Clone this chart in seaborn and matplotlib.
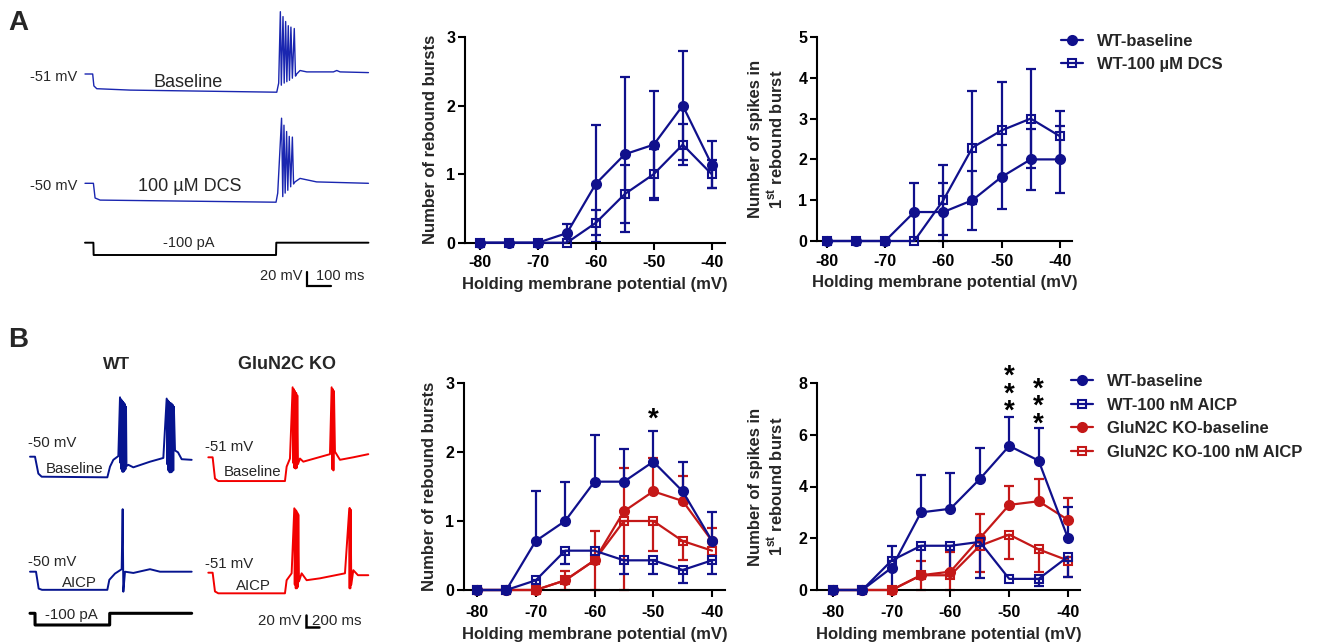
import numpy as np
import matplotlib
matplotlib.use('Agg')
import matplotlib.pyplot as plt
import seaborn as sns

sns.set_theme(style='ticks')
plt.rcParams['font.family'] = ['Liberation Sans', 'DejaVu Sans']
plt.rcParams['mathtext.fontset'] = 'custom'
plt.rcParams['mathtext.rm'] = 'Liberation Sans'
plt.rcParams['mathtext.bf'] = 'Liberation Sans:bold'
plt.rcParams['axes.unicode_minus'] = False

# ---------------- data ----------------
V_HOLD = [-80, -75, -70, -65, -60, -55, -50, -45, -40]
X_TICKS = [-80, -70, -60, -50, -40]

# Panel A: rebound bursts
A_BURST_BASE = [0, 0, 0, 0.14, 0.86, 1.29, 1.43, 2.00, 1.14]
A_BURST_BASE_SEM = [0, 0, 0, 0.14, 0.85, 1.13, 0.78, 0.79, 0.34]
A_BURST_DCS = [0, 0, 0, 0, 0.29, 0.71, 1.00, 1.43, 1.00]
A_BURST_DCS_SEM = [0, 0, 0, 0, 0.18, 0.42, 0.37, 0.30, 0.20]
# Panel A: spikes in 1st burst
A_SPK_BASE = [0, 0, 0, 0.71, 0.71, 1.00, 1.57, 2.00, 2.00]
A_SPK_BASE_SEM = [0, 0, 0, 0.72, 0.71, 0.72, 0.78, 0.75, 0.82]
A_SPK_DCS = [0, 0, 0, 0, 1.00, 2.29, 2.71, 3.00, 2.57]
A_SPK_DCS_SEM = [0, 0, 0, 0, 0.86, 1.39, 1.19, 1.21, 0.61]

# Panel B: rebound bursts
B_BURST_WT = [0, 0, 0.71, 1.00, 1.57, 1.57, 1.86, 1.43, 0.71]
B_BURST_WT_LO = [0, 0, 0, 0, 0, 0, 0, 0, 0]
B_BURST_WT_HI = [0, 0, 0.72, 0.57, 0.68, 0.47, 0.45, 0.43, 0.42]
B_BURST_WTA = [0, 0, 0.14, 0.57, 0.57, 0.43, 0.43, 0.29, 0.43]
B_BURST_WTA_LO = [0, 0, 0.14, 0.20, 0, 0.20, 0.20, 0.19, 0.20]
B_BURST_WTA_HI = [0, 0, 0, 0, 0, 0, 0, 0, 0]
B_BURST_KO = [0, 0, 0, 0.14, 0.43, 1.14, 1.43, 1.29, 0.71]
B_BURST_KO_LO = [0, 0, 0, 0, 0, 0, 0, 0, 0]
B_BURST_KO_HI = [0, 0, 0, 0.14, 0.43, 0.63, 0.48, 0.36, 0.19]
B_BURST_KOA = [0, 0, 0, 0.14, 0.43, 1.00, 1.00, 0.71, 0.57]
B_BURST_KOA_LO = [0, 0, 0, 0.14, 0.43, 1.00, 0.43, 0.28, 0]
B_BURST_KOA_HI = [0, 0, 0, 0, 0, 0, 0, 0, 0]
# Panel B: spikes in 1st burst
B_SPK_WT = [0, 0, 0.86, 3.00, 3.14, 4.29, 5.57, 5.00, 2.00]
B_SPK_WT_LO = [0, 0, 0.86, 0, 0, 0, 0, 0, 0]
B_SPK_WT_HI = [0, 0, 0, 1.43, 1.40, 1.21, 1.12, 1.28, 1.22]
B_SPK_WTA = [0, 0, 1.14, 1.71, 1.71, 1.86, 0.43, 0.43, 1.29]
B_SPK_WTA_LO = [0, 0, 0, 1.21, 1.16, 1.41, 0, 0.28, 0.80]
B_SPK_WTA_HI = [0, 0, 0.56, 0, 0, 0, 0, 0, 0]
B_SPK_KO = [0, 0, 0, 0.57, 0.71, 2.00, 3.29, 3.43, 2.71]
B_SPK_KO_LO = [0, 0, 0, 0, 0, 0, 0, 0, 0]
B_SPK_KO_HI = [0, 0, 0, 0.57, 0.74, 0.94, 0.73, 0.87, 0.83]
B_SPK_KOA = [0, 0, 0, 0.57, 0.57, 1.71, 2.14, 1.57, 1.14]
B_SPK_KOA_LO = [0, 0, 0, 0.57, 0.57, 1.00, 0.95, 0.86, 0.65]
B_SPK_KOA_HI = [0, 0, 0, 0, 0, 0, 0, 0, 0]

# significance marks: (x, y of the middle star centre, number of stars)
STARS_B1 = [(-50, 2.58, 1)]
STARS_B2 = [(-50, 7.86, 3), (-45, 7.37, 3)]

# Example traces (time in ms, membrane potential in mV, current in pA)
A_BASE_T = [0, 32, 37, 49, 188, 799, 807, 814, 818, 825, 830, 836, 841, 847, 852, 858, 864, 872, 877, 882, 896, 924, 1035, 1049, 1063, 1181]
A_BASE_V = [-51, -51, -68, -72, -74, -77, -64, 38, -67, 31, -64, 24, -62, 18, -60, 16, -57, 14, -54, -51, -46, -48, -48, -46, -48, -49]
A_DCS_T = [0, 35, 42, 63, 796, 803, 819, 824, 829, 834, 840, 845, 851, 857, 864, 869, 875, 896, 965, 1181]
A_DCS_V = [-50, -50, -71, -74, -77, -64, 43, -69, 33, -64, 24, -60, 17, -55, 16, -51, -48, -43, -48, -50]
A_I_T = [0, 35, 36, 796, 797, 1181]
A_I_V = [0, 0, -100, -100, 0, 0]

B_WT_T = [0, 75, 125, 175, 1160, 1200, 1250, 1325, 1350, 1357, 1365, 1372, 1380, 1387, 1395, 1402, 1410, 1417, 1425, 1432, 1440, 1447, 1475, 1550, 1800, 2000, 2050, 2059, 2068, 2077, 2086, 2095, 2104, 2113, 2122, 2131, 2140, 2149, 2158, 2175, 2220, 2275, 2425]
B_WT_V = [-50, -50, -77, -82, -83, -66, -55, -49, 45, -60, 42, -70, 40, -74, 38, -74, 36, -72, 34, -70, 30, -65, -63, -67, -58, -52, 43, -62, 40, -72, 38, -75, 36, -75, 35, -74, 33, -72, 30, -40, -43, -54, -55]
B_WTA_T = [0, 90, 130, 180, 1160, 1190, 1275, 1375, 1390, 1400, 1425, 1550, 1800, 1950, 2425]
B_WTA_V = [-50, -50, -77, -79, -79, -63, -53, -46, 50, -82, -50, -52, -46, -50, -50]
B_KO_T = [0, 65, 100, 150, 1150, 1175, 1225, 1265, 1274, 1283, 1292, 1300, 1309, 1318, 1327, 1335, 1345, 1375, 1425, 1825, 1850, 1859, 1868, 1877, 1885, 1900, 1975, 2175, 2400]
B_KO_V = [-51, -51, -85, -89, -89, -66, -53, 61, -60, 58, -68, 55, -69, 52, -68, 48, -62, -53, -58, -46, 61, -70, 58, -72, 55, -42, -55, -51, -46]
B_KOA_T = [0, 65, 100, 150, 1150, 1175, 1250, 1290, 1297, 1305, 1312, 1320, 1327, 1335, 1342, 1350, 1360, 1400, 1475, 1675, 2050, 2115, 2120, 2125, 2130, 2135, 2145, 2175, 2245, 2400]
B_KOA_V = [-51, -51, -81, -84, -84, -63, -52, 52, -70, 50, -76, 48, -76, 45, -74, 42, -65, -52, -63, -60, -52, 52, -76, 52, -76, 50, -70, -47, -55, -55]
B_I_T = [0, 75, 76, 1195, 1196, 2425]
B_I_V = [0, 0, -100, -100, 0, 0]

SCALE_MV = 20
SCALE_MS_A = 100
SCALE_MS_B = 200

# ---------------- styles ----------------
NAVY = '#10108c'
RED = '#c41818'
TRACE_BLUE_A = '#1a26b0'
TRACE_BLUE_B = '#06148f'
TRACE_RED = '#f20000'

W, H = 1325, 642
fig = plt.figure(figsize=(W / 100, H / 100), dpi=100)


def px_axes(x0, y0, x1, y1):
    return fig.add_axes([x0 / W, 1 - y1 / H, (x1 - x0) / W, (y1 - y0) / H])


def trace_axes(x0, y0, x1, y1, ms_per_px, v_ref, y_ref, units_per_px):
    ax = px_axes(x0, y0, x1, y1)
    ax.set_xlim(0, (x1 - x0) * ms_per_px)
    ax.set_ylim(v_ref - (y1 - y_ref) * units_per_px, v_ref + (y_ref - y0) * units_per_px)
    ax.set_axis_off()
    return ax


def ftext(x, y, s, **kw):
    kw.setdefault('va', 'baseline')
    fig.text(x / W, 1 - y / H, s, **kw)


def plot_series(ax, y, lo, hi, color, marker, label, filled):
    x = np.asarray(V_HOLD, float)
    y = np.asarray(y, float)
    lo = np.asarray(lo, float)
    hi = np.asarray(hi, float)
    m = (lo > 0) | (hi > 0)
    ax.errorbar(x[m], y[m], yerr=[lo[m], hi[m]], fmt='none', ecolor=color,
                elinewidth=1.6, capsize=3.3, capthick=1.6, zorder=2, clip_on=False)
    sns.lineplot(x=x, y=y, ax=ax, color=color, marker=marker, markersize=6.5 if filled else 6.0,
                 markerfacecolor=color if filled else 'none', markeredgecolor=color,
                 markeredgewidth=1.5, linewidth=1.6, label=label, errorbar=None,
                 zorder=3, clip_on=False, legend=False)


def style_ax(ax, xlim, ylim, yticks, ylabel, tick_pad, xlabel_pad, ylabel_pad):
    ax.set_xlim(*xlim)
    ax.set_ylim(*ylim)
    ax.set_xticks(X_TICKS)
    ax.set_yticks(yticks)
    sns.despine(ax=ax)
    for s in ('left', 'bottom'):
        ax.spines[s].set_linewidth(1.5)
        ax.spines[s].set_color('black')
    ax.tick_params(direction='out', length=5, width=1.5, colors='black', labelsize=11.5, pad=2)
    ax.tick_params(axis='x', pad=tick_pad)
    for t in ax.get_xticklabels() + ax.get_yticklabels():
        t.set_fontweight('bold')
    ax.set_xlabel('Holding membrane potential (mV)', fontsize=12, fontweight='bold', labelpad=xlabel_pad)
    ax.set_ylabel(ylabel, fontsize=12, fontweight='bold', labelpad=ylabel_pad, linespacing=1.2)
    ax.grid(False)


def add_stars(ax, marks, fs=20):
    for sx, sy, n in marks:
        ax.annotate('\n'.join(['*'] * n), xy=(sx, sy), xytext=(0, -5.5),
                    textcoords='offset points', ha='center', va='center',
                    fontsize=fs, fontweight='bold', linespacing=0.59,
                    annotation_clip=False, color='black')


YL_BURST = 'Number of rebound bursts'
YL_SPK = 'Number of spikes in\n1$^{\\bf st}$ rebound burst'

# ---------------- Panel A plots ----------------
axA1 = px_axes(465, 37, 725, 242.7)
plot_series(axA1, A_BURST_DCS, A_BURST_DCS_SEM, A_BURST_DCS_SEM, NAVY, 's', 'WT-100 \u00b5M DCS', False)
plot_series(axA1, A_BURST_BASE, A_BURST_BASE_SEM, A_BURST_BASE_SEM, NAVY, 'o', 'WT-baseline', True)
style_ax(axA1, (-82.6, -37.7), (0, 3), [0, 1, 2, 3], YL_BURST, 4.2, 4.5, 6)

axA2 = px_axes(817, 37, 1072, 241)
plot_series(axA2, A_SPK_DCS, A_SPK_DCS_SEM, A_SPK_DCS_SEM, NAVY, 's', 'WT-100 \u00b5M DCS', False)
plot_series(axA2, A_SPK_BASE, A_SPK_BASE_SEM, A_SPK_BASE_SEM, NAVY, 'o', 'WT-baseline', True)
style_ax(axA2, (-81.7, -37.9), (0, 5), [0, 1, 2, 3, 4, 5], YL_SPK, 4.2, 4.5, 8.5)

h, l = axA2.get_legend_handles_labels()
order = [l.index('WT-baseline'), l.index('WT-100 \u00b5M DCS')]
axA2.legend([h[i] for i in order], [l[i] for i in order], loc='upper left',
            bbox_to_anchor=(1061 / W, 1 - 34 / H), bbox_transform=fig.transFigure,
            frameon=False, prop={'weight': 'bold', 'size': 12}, handlelength=1.3,
            handletextpad=0.85, labelspacing=0.45, borderpad=0, borderaxespad=0)

# ---------------- Panel B plots ----------------
axB1 = px_axes(464, 383, 725, 590)
plot_series(axB1, B_BURST_KOA, B_BURST_KOA_LO, B_BURST_KOA_HI, RED, 's', 'GluN2C KO-100 nM AICP', False)
plot_series(axB1, B_BURST_KO, B_BURST_KO_LO, B_BURST_KO_HI, RED, 'o', 'GluN2C KO-baseline', True)
plot_series(axB1, B_BURST_WTA, B_BURST_WTA_LO, B_BURST_WTA_HI, NAVY, 's', 'WT-100 nM AICP', False)
plot_series(axB1, B_BURST_WT, B_BURST_WT_LO, B_BURST_WT_HI, NAVY, 'o', 'WT-baseline', True)
style_ax(axB1, (-82.2, -37.8), (0, 3), [0, 1, 2, 3], YL_BURST, 5.5, 5.5, 6)
add_stars(axB1, STARS_B1)

axB2 = px_axes(817, 383, 1080, 590)
plot_series(axB2, B_SPK_KOA, B_SPK_KOA_LO, B_SPK_KOA_HI, RED, 's', 'GluN2C KO-100 nM AICP', False)
plot_series(axB2, B_SPK_KO, B_SPK_KO_LO, B_SPK_KO_HI, RED, 'o', 'GluN2C KO-baseline', True)
plot_series(axB2, B_SPK_WTA, B_SPK_WTA_LO, B_SPK_WTA_HI, NAVY, 's', 'WT-100 nM AICP', False)
plot_series(axB2, B_SPK_WT, B_SPK_WT_LO, B_SPK_WT_HI, NAVY, 'o', 'WT-baseline', True)
style_ax(axB2, (-82.7, -37.96), (0, 8), [0, 2, 4, 6, 8], YL_SPK, 5.5, 5.5, 8.5)
add_stars(axB2, STARS_B2)

h, l = axB2.get_legend_handles_labels()
names = ['WT-baseline', 'WT-100 nM AICP', 'GluN2C KO-baseline', 'GluN2C KO-100 nM AICP']
order = [l.index(n) for n in names]
axB2.legend([h[i] for i in order], [l[i] for i in order], loc='upper left',
            bbox_to_anchor=(1071 / W, 1 - 374 / H), bbox_transform=fig.transFigure,
            frameon=False, prop={'weight': 'bold', 'size': 12}, handlelength=1.3,
            handletextpad=0.85, labelspacing=0.52, borderpad=0, borderaxespad=0)

# ---------------- Panel A traces ----------------
MS_PX_A, MV_PX_A = 1 / 0.24, 1 / 0.7
tA1 = trace_axes(85, 0, 370, 110, MS_PX_A, -51, 74, MV_PX_A)
tA1.plot(A_BASE_T, A_BASE_V, color=TRACE_BLUE_A, lw=1.0, clip_on=False)
tA2 = trace_axes(85, 110, 370, 215, MS_PX_A, -50, 183.3, MV_PX_A)
tA2.plot(A_DCS_T, A_DCS_V, color=TRACE_BLUE_A, lw=1.0, clip_on=False)
tAI = trace_axes(85, 230, 370, 270, MS_PX_A, 0, 242.7, 100 / 12.3)
tAI.plot(A_I_T, A_I_V, color='black', lw=1.4, clip_on=False)
sA = trace_axes(300, 265, 340, 292, MS_PX_A, 0, 286, MV_PX_A)
t0 = 7 * MS_PX_A
sA.plot([t0, t0, t0 + SCALE_MS_A], [SCALE_MV, 0, 0], color='black', lw=1.6, clip_on=False,
        solid_joinstyle='miter')

ftext(8, 30, 'A', fontsize=20, fontweight='bold')
ftext(77, 80.7, '-51 mV', fontsize=10.5, ha='right')
ftext(188, 86.7, 'Baseline', fontsize=13, ha='center')
ftext(77, 190, '-50 mV', fontsize=10.5, ha='right')
ftext(189.5, 191, '100 \u00b5M DCS', fontsize=13, ha='center')
ftext(189, 246.5, '-100 pA', fontsize=10.5, ha='center')
ftext(302, 280, '20 mV', fontsize=10.5, ha='right')
ftext(316, 280, '100 ms', fontsize=10.5, ha='left')

# ---------------- Panel B traces ----------------
MS_PX_B, MV_PX_B = 15, 1.6
tB1 = trace_axes(30, 380, 200, 490, MS_PX_B, -50, 456.7, MV_PX_B)
tB1.plot(B_WT_T, B_WT_V, color=TRACE_BLUE_B, lw=1.4, clip_on=False)
tB2 = trace_axes(30, 495, 200, 600, MS_PX_B, -50, 571.7, MV_PX_B)
tB2.plot(B_WTA_T, B_WTA_V, color=TRACE_BLUE_B, lw=1.4, clip_on=False)
tB3 = trace_axes(208.3, 380, 375, 490, MS_PX_B, -51, 457.3, MV_PX_B)
tB3.plot(B_KO_T, B_KO_V, color=TRACE_RED, lw=1.4, clip_on=False)
tB4 = trace_axes(208.3, 495, 375, 600, MS_PX_B, -51, 572.7, MV_PX_B)
tB4.plot(B_KOA_T, B_KOA_V, color=TRACE_RED, lw=1.4, clip_on=False)
tBI = trace_axes(30, 605, 200, 632, MS_PX_B, 0, 613.3, 100 / 11.7)
tBI.plot(B_I_T, B_I_V, color='black', lw=2.2, clip_on=False)
sB = trace_axes(300, 605, 330, 632, MS_PX_B, 0, 627, MV_PX_B)
t0 = 6 * MS_PX_B
sB.plot([t0, t0, t0 + SCALE_MS_B], [SCALE_MV, 0, 0], color='black', lw=1.8, clip_on=False,
        solid_joinstyle='miter')

ftext(8, 346.7, 'B', fontsize=20, fontweight='bold')
ftext(116.7, 369.3, 'WT', fontsize=12.5, fontweight='bold', ha='center')
ftext(287.3, 369.3, 'GluN2C KO', fontsize=13, fontweight='bold', ha='center')
ftext(28.3, 446.7, '-50 mV', fontsize=10.8)
ftext(74.3, 473.3, 'Baseline', fontsize=10.8, ha='center')
ftext(205, 450.7, '-51 mV', fontsize=10.8)
ftext(252.3, 476, 'Baseline', fontsize=10.8, ha='center')
ftext(28.3, 566, '-50 mV', fontsize=10.8)
ftext(79.2, 587.3, 'AICP', fontsize=10.8, ha='center')
ftext(205, 568.3, '-51 mV', fontsize=10.8)
ftext(253.7, 590, 'AICP', fontsize=10.8, ha='center')
ftext(71.8, 618.5, '-100 pA', fontsize=10.8, ha='center')
ftext(301.7, 625, '20 mV', fontsize=10.8, ha='right')
ftext(311.7, 625, '200 ms', fontsize=10.8, ha='left')

fig.savefig('out.png', dpi=100)
